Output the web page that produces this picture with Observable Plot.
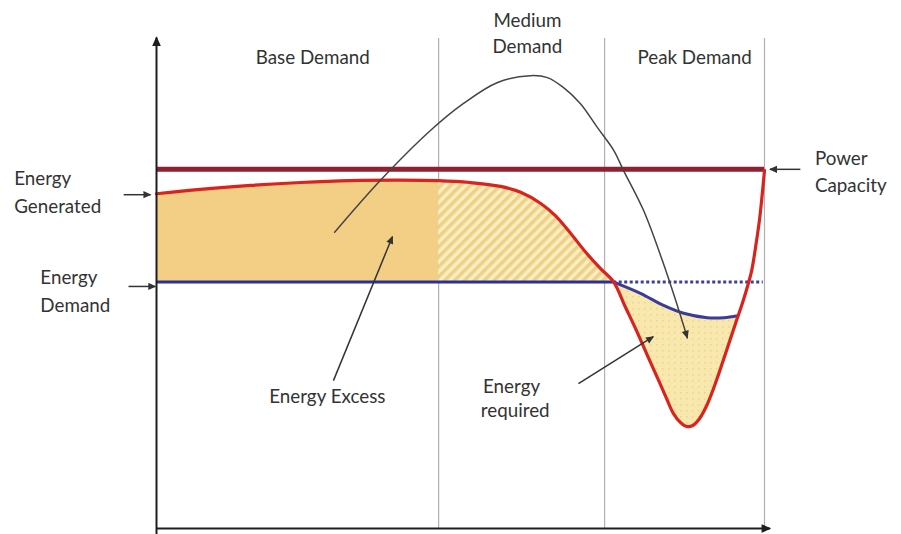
<!DOCTYPE html>
<html>
<head>
<meta charset="utf-8">
<script src="https://cdn.jsdelivr.net/npm/d3@7"></script>
<script src="https://cdn.jsdelivr.net/npm/@observablehq/plot@0.6"></script>
<style>
  html, body { margin: 0; padding: 0; background: #fff; }
  #chart svg { display: block; }
</style>
</head>
<body>
<div id="chart"></div>
<script>
// ---- Data (conceptual units: time 0–100, energy 0–100) ----
const powerCapacity = 73.6;
const demandLevel = 50.5;
const dividers = [46.4, 73.7, 100];

// Energy generated (red curve)
const generated = [
  [0, 68.6], [7.2, 69.5], [15.5, 70.3], [23.7, 70.9], [31.9, 71.3], [40.1, 71.4],
  [46.4, 71.3], [51.6, 70.9], [56.6, 70.1], [59.9, 68.9], [63.2, 66.6], [65.6, 64.1],
  [68.1, 60.5], [70.6, 56.6], [73.0, 53.3], [75.2, 50.5], [77.0, 45.7], [79.0, 40.4],
  [80.9, 35.0], [82.6, 30.3], [83.9, 26.6], [85.0, 23.6], [86.2, 21.7], [87.2, 20.9],
  [88.2, 21.1], [89.3, 22.5], [90.5, 25.2], [91.8, 29.3], [93.1, 34.0], [94.4, 38.9],
  [95.4, 42.6], [96.4, 46.3], [97.2, 49.6], [97.9, 52.9], [98.5, 57.4], [99.2, 63.5],
  [100, 73.4]
];

// Energy demand curve during peak (blue)
const demandCurve = [
  [75.2, 50.5], [79.6, 48.2], [83.4, 45.7], [86.7, 44.1], [90.6, 43.2], [93.3, 43.2], [95.6, 43.6]
];

// Annotation curve (thin black)
const callout = [
  [29.3, 60.7], [36.8, 71.3], [45.1, 81.6], [50.5, 87.1], [56.1, 91.4], [61.5, 92.8],
  [64.3, 92.4], [66.9, 90.4], [69.7, 87.1], [72.5, 82.2], [75.2, 77.5], [76.8, 73.4],
  [80.1, 65.2], [83.2, 54.9], [85.4, 46.7], [87.3, 39.1]
];

// Region breakpoints
const baseEnd = 46.4, crossPoint = 75.2, peakEnd = 95.5;

// Labels
const labelText = ["Base Demand", "Medium", "Demand", "Peak Demand", "Energy Excess", "Energy", "required"];
const labelX = [25.7, 61.0, 61.0, 88.5, 28.1, 58.4, 59.0];
const labelY = [96.5, 104.1, 98.6, 96.5, 27.0, 28.9, 24.0];

const sideText = ["Energy", "Generated", "Energy", "Demand", "Power", "Capacity"];
const sideX = [-23.4, -23.4, -19.1, -19.1, 108.3, 108.3];
const sideY = [71.7, 65.8, 51.4, 45.7, 75.8, 70.1];

// Pointer arrows [x1, y1, x2, y2]
const pointers = [
  [29.1, 30.3, 38.8, 59.8],   // Energy Excess
  [69.4, 29.7, 81.7, 39.3],   // Energy required
  [-5.4, 68.4, -1.0, 68.4],   // Energy Generated
  [-4.6, 49.6, -0.2, 49.6],   // Energy Demand
  [105.9, 73.6, 100.9, 73.6]  // Power Capacity
];
const axes = [[0, -1.5, 0, 100.6], [0, 0, 100.9, 0]];

// ---- Tables ----
const gen = generated.map(([x, y]) => ({x, y}));
const baseArea = gen.filter(d => d.x <= baseEnd);
const medArea = gen.filter(d => d.x >= baseEnd && d.x <= crossPoint);
const peakArea = gen.filter(d => d.x >= crossPoint && d.x <= peakEnd);
const dem = demandCurve.map(([x, y]) => ({x, y}));
const call = callout.map(([x, y]) => ({x, y}));
const labels = labelText.map((t, i) => ({t, x: labelX[i], y: labelY[i]}));
const sides = sideText.map((t, i) => ({t, x: sideX[i], y: sideY[i]}));
const ptr = pointers.map(([x1, y1, x2, y2]) => ({x1, y1, x2, y2}));
const ax = axes.map(([x1, y1, x2, y2]) => ({x1, y1, x2, y2}));

const curve = "catmull-rom";
const fontSize = 18.8;

const chart = Plot.plot({
  width: 901,
  height: 534,
  marginLeft: 156,
  marginRight: 137,
  marginTop: 40,
  marginBottom: 6,
  x: {domain: [0, 100], axis: null},
  y: {domain: [0, 100], axis: null},
  style: {fontFamily: "Lato, 'Open Sans', sans-serif", background: "#fff"},
  marks: [
    Plot.ruleX(dividers, {x: d => d, y1: 0, y2: 100.4, stroke: "#b0b0b0", strokeWidth: 1.2}),
    Plot.areaY(baseArea, {x: "x", y1: demandLevel, y2: "y", curve, fill: "#F2CF85"}),
    Plot.areaY(medArea, {x: "x", y1: demandLevel, y2: "y", curve, fill: "url(#hatch)"}),
    Plot.areaY(peakArea, {x: "x", y1: demandLevel, y2: "y", curve, fill: "url(#dots)"}),
    Plot.areaY(dem, {x: "x", y1: "y", y2: demandLevel, curve, fill: "#fff"}),
    Plot.ruleY([powerCapacity], {y: d => d, x1: 0, x2: 100, stroke: "#8E2233", strokeWidth: 5}),
    Plot.ruleY([demandLevel], {y: d => d, x1: 0, x2: crossPoint, stroke: "#2A2F9E", strokeWidth: 3}),
    Plot.ruleY([demandLevel], {y: d => d, x1: crossPoint, x2: 99.8, stroke: "#3A3FA8", strokeWidth: 3, strokeDasharray: "3,2.5"}),
    Plot.line(dem, {x: "x", y: "y", curve, stroke: "#3A3C9A", strokeWidth: 3}),
    Plot.line(gen, {x: "x", y: "y", curve, stroke: "#D9231E", strokeWidth: 3.2}),
    Plot.line(call, {x: "x", y: "y", curve, stroke: "#444", strokeWidth: 1.5, markerEnd: "arrow"}),
    Plot.link(ptr, {x1: "x1", y1: "y1", x2: "x2", y2: "y2", stroke: "#333", strokeWidth: 1.5, markerEnd: "arrow"}),
    Plot.link(ax, {x1: "x1", y1: "y1", x2: "x2", y2: "y2", stroke: "#1e1e1e", strokeWidth: 2, markerEnd: "arrow"}),
    Plot.text(labels, {x: "x", y: "y", text: "t", textAnchor: "middle", fill: "#333", fontSize}),
    Plot.text(sides, {x: "x", y: "y", text: "t", textAnchor: "start", fill: "#333", fontSize})
  ]
});

// Defs: filled arrowheads and fill textures
const defs = d3.select(chart).insert("defs", ":first-child");
function head(id, size, color) {
  defs.append("marker").attr("id", id)
    .attr("viewBox", "-8 -5 10 10").attr("refX", 0).attr("refY", 0)
    .attr("markerUnits", "userSpaceOnUse")
    .attr("markerWidth", size).attr("markerHeight", size)
    .attr("orient", "auto")
    .append("path").attr("d", "M-7,-3.6L1,0L-7,3.6Z").attr("fill", color);
}
head("headSmall", 10, "#333");
head("headBig", 12, "#1e1e1e");
d3.select(chart).selectAll("[marker-end]").each(function() {
  let el = this, sw = null;
  while (el && el !== chart && sw == null) {
    sw = el.getAttribute && el.getAttribute("stroke-width");
    el = el.parentNode;
  }
  this.setAttribute("marker-end", +sw >= 2 ? "url(#headBig)" : "url(#headSmall)");
});

const hatch = defs.append("pattern").attr("id", "hatch").attr("patternUnits", "userSpaceOnUse")
  .attr("width", 7).attr("height", 7).attr("patternTransform", "rotate(45)");
hatch.append("rect").attr("width", 7).attr("height", 7).attr("fill", "#F9EDC3");
hatch.append("rect").attr("width", 3.5).attr("height", 7).attr("fill", "#EDD283");
const dots = defs.append("pattern").attr("id", "dots").attr("patternUnits", "userSpaceOnUse")
  .attr("width", 6).attr("height", 6);
dots.append("rect").attr("width", 6).attr("height", 6).attr("fill", "#F9E8AD");
dots.append("rect").attr("x", 2).attr("y", 2).attr("width", 1.5).attr("height", 1.5).attr("fill", "#EBD48C");

document.getElementById("chart").appendChild(chart);
</script>
</body>
</html>
